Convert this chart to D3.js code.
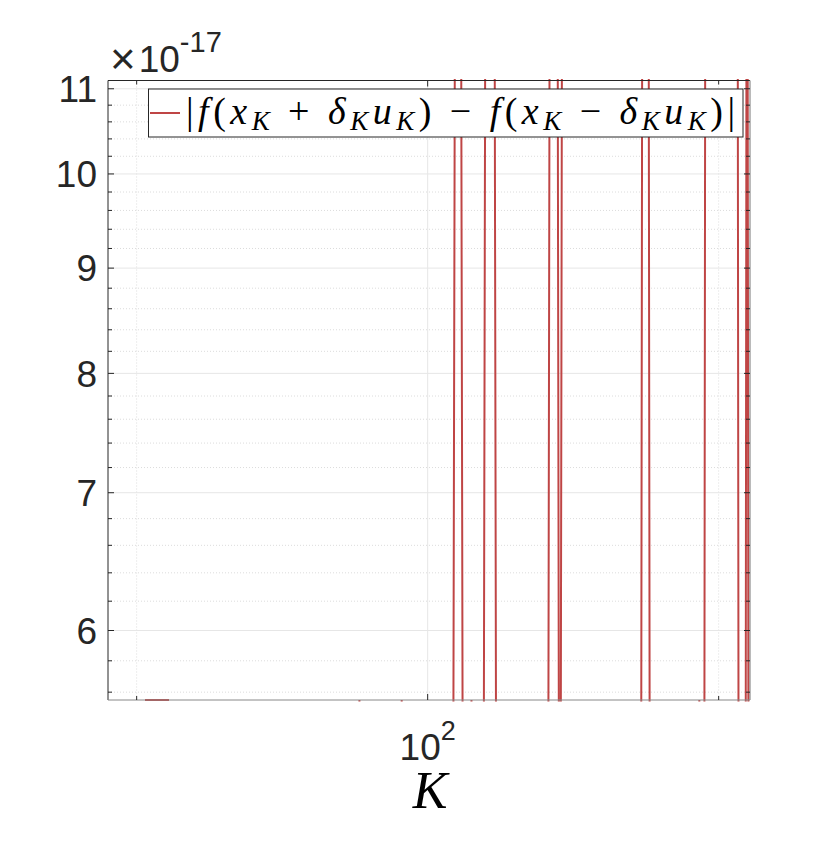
<!DOCTYPE html>
<html>
<head>
<meta charset="utf-8">
<script src="https://cdnjs.cloudflare.com/ajax/libs/d3/7.8.5/d3.min.js"></script>
<style>
  body { margin: 0; background: #fff; }
  svg { display: block; }
</style>
</head>
<body>
<script>
// - Data -

// iteration index K and |f(x+du) - f(x-du)|, 0 = not drawn on log axis
const kValues = [51, 52, 53, 54, 55,
                 84, 85, 86,
                 94, 95, 96,
                 106, 107, 108, 109, 110, 111, 112, 113,
                 114, 115, 116, 117, 118, 119,
                 133, 134, 135, 136, 137, 138, 139,
                 166, 167, 168, 169, 170, 171,
                 190, 191, 192, 193, 194, 195, 200, 205, 209, 210, 211, 212, 213, 214, 215];
const diffValues = [5.551e-17, 5.551e-17, 5.551e-17, 5.551e-17, 0,
                    2.776e-17, 5.551e-17, 0,
                    5.551e-17, 2.776e-17, 0,
                    2.776e-17, 2.22e-16, 2.22e-16, 2.776e-17, 2.776e-17, 5.551e-17, 2.776e-17, 0,
                    2.776e-17, 2.22e-16, 2.22e-16, 2.22e-16, 2.776e-17, 0,
                    2.776e-17, 2.22e-16, 2.22e-16, 2.22e-16, 2.776e-17, 2.22e-16, 0,
                    2.776e-17, 2.22e-16, 2.22e-16, 2.22e-16, 2.776e-17, 0,
                    2.776e-17, 5.551e-17, 2.776e-17, 2.776e-17, 2.22e-16, 2.22e-16, 2.22e-16, 2.22e-16, 2.22e-16, 2.776e-17, 2.776e-17, 2.776e-17, 2.776e-17, 2.22e-16, 2.776e-17];

const yMajor = [6, 7, 8, 9, 10, 11];
const yMinor = [5.6, 5.8, 6.2, 6.4, 6.6, 6.8, 7.2, 7.4, 7.6, 7.8, 8.2, 8.4, 8.6, 8.8,
                9.2, 9.4, 9.6, 9.8, 10.2, 10.4, 10.6, 10.8];
const xMajor = [100];
const xMinor = [50, 200];

// - Chart size -

const w = 830,
      h = 849,
      pLeft = 108,
      pRight = 750,
      pTop = 80.5,
      pBottom = 700;

const axisColor = "#262626",
      lineColor = "#bf4545";

const x = d3.scaleLog().domain([46.7, 215.5]).range([pLeft, pRight]);
const y = d3.scaleLog().domain([Math.pow(2, -54), Math.pow(2, -53)]).range([pBottom, pTop]);

const svg = d3.select("body")
              .append("svg")
              .attr("width", w)
              .attr("height", h);

svg.append("defs").append("clipPath")
   .attr("id", "clip")
   .append("rect")
   .attr("x", pLeft - 1)
   .attr("y", pTop - 1.5)
   .attr("width", pRight - pLeft + 2)
   .attr("height", pBottom - pTop + 3);

// - Grid -

const grid = svg.append("g");

grid.selectAll(".ymin")
    .data(yMinor)
    .enter()
    .append("line")
    .attr("x1", pLeft).attr("x2", pRight)
    .attr("y1", d => y(d * 1e-17)).attr("y2", d => y(d * 1e-17))
    .attr("stroke", "#dcdcdc")
    .attr("stroke-dasharray", "1,2");

grid.selectAll(".xmin")
    .data(xMinor)
    .enter()
    .append("line")
    .attr("x1", d => x(d)).attr("x2", d => x(d))
    .attr("y1", pTop).attr("y2", pBottom)
    .attr("stroke", "#dcdcdc")
    .attr("stroke-dasharray", "1,2");

grid.selectAll(".ymaj")
    .data(yMajor)
    .enter()
    .append("line")
    .attr("x1", pLeft).attr("x2", pRight)
    .attr("y1", d => y(d * 1e-17)).attr("y2", d => y(d * 1e-17))
    .attr("stroke", "#e6e6e6");

grid.selectAll(".xmaj")
    .data(xMajor)
    .enter()
    .append("line")
    .attr("x1", d => x(d)).attr("x2", d => x(d))
    .attr("y1", pTop).attr("y2", pBottom)
    .attr("stroke", "#e6e6e6");

// - Line -

const points = kValues.map((k, i) => ({k: k, v: diffValues[i]}));

const line = d3.line()
               .defined(d => d.v > 0)
               .x(d => x(d.k))
               .y(d => y(d.v));

svg.append("path")
   .datum(points)
   .attr("clip-path", "url(#clip)")
   .attr("fill", "none")
   .attr("stroke", lineColor)
   .attr("stroke-width", 2)
   .attr("d", line);

// - Axes box and ticks -

const axes = svg.append("g").attr("stroke", axisColor);

axes.append("line").attr("x1", pLeft).attr("x2", pRight).attr("y1", pTop).attr("y2", pTop);
axes.append("line").attr("x1", pLeft).attr("x2", pLeft).attr("y1", pTop).attr("y2", pBottom);
axes.append("line").attr("x1", pRight).attr("x2", pRight).attr("y1", pTop).attr("y2", pBottom).attr("stroke", "#777");
axes.append("line").attr("x1", pLeft).attr("x2", pRight).attr("y1", pBottom).attr("y2", pBottom).attr("stroke", "#888");

function yTicks(vals, len) {
  vals.forEach(d => {
    let p = y(d * 1e-17);
    axes.append("line").attr("x1", pLeft).attr("x2", pLeft + len).attr("y1", p).attr("y2", p);
    axes.append("line").attr("x1", pRight).attr("x2", pRight - len).attr("y1", p).attr("y2", p);
  });
}
function xTicks(vals, len) {
  vals.forEach(d => {
    let p = x(d);
    axes.append("line").attr("x1", p).attr("x2", p).attr("y1", pBottom).attr("y2", pBottom - len);
    axes.append("line").attr("x1", p).attr("x2", p).attr("y1", pTop).attr("y2", pTop + len);
  });
}
yTicks(yMajor, 6);
yTicks(yMinor, 4);
xTicks(xMajor, 6);
xTicks(xMinor, 4);

// - Tick labels -

svg.selectAll(".ylab")
   .data(yMajor)
   .enter()
   .append("text")
   .attr("x", pLeft - 11)
   .attr("y", d => y(d * 1e-17))
   .attr("dy", "0.36em")
   .attr("text-anchor", "end")
   .attr("font-family", "Liberation Sans, Arial, sans-serif")
   .attr("font-size", 37)
   .attr("fill", axisColor)
   .text(d => d);

const xlab = svg.append("text")
                .attr("x", x(100))
                .attr("y", 760)
                .attr("text-anchor", "middle")
                .attr("font-family", "Liberation Sans, Arial, sans-serif")
                .attr("fill", axisColor);
xlab.append("tspan").attr("font-size", 37).text("10");
xlab.append("tspan").attr("font-size", 27).attr("dy", -20).text("2");

// exponent label
const expo = svg.append("text")
                .attr("x", 110)
                .attr("y", 72)
                .attr("font-family", "Liberation Sans, Arial, sans-serif")
                .attr("fill", axisColor);
expo.append("tspan").attr("font-size", 44).attr("dy", 2).text("\u00d7");
expo.append("tspan").attr("font-size", 37).attr("dx", 3).attr("dy", -2).text("10");
expo.append("tspan").attr("font-size", 29).attr("dy", -20).text("-17");

// x label
svg.append("text")
   .attr("x", 430)
   .attr("y", 808)
   .attr("text-anchor", "middle")
   .attr("font-family", "Liberation Serif, serif")
   .attr("font-style", "italic")
   .attr("font-size", 52)
   .attr("fill", "#000")
   .text("K");

// - Legend -

const legend = svg.append("g");

legend.append("rect")
      .attr("x", 148.5)
      .attr("y", 89)
      .attr("width", 594.5)
      .attr("height", 48)
      .attr("fill", "#fff")
      .attr("stroke", axisColor);

legend.append("line")
      .attr("x1", 150).attr("x2", 180)
      .attr("y1", 113).attr("y2", 113)
      .attr("stroke", lineColor)
      .attr("stroke-width", 2);

const lt = legend.append("text")
                 .attr("x", 186)
                 .attr("y", 124)
                 .attr("font-family", "Liberation Serif, serif")
                 .attr("font-size", 38)
                 .attr("fill", "#000")
                 .attr("textLength", 549)
                 .attr("lengthAdjust", "spacing");

const parts = [
  ["|", ""], ["f", "it"], ["(", ""], ["x", "it"], ["K", "sub"], [" + ", ""], ["\u03b4", "it"], ["K", "sub"],
  ["u", "it"], ["K", "sub"], [") \u2212 ", ""], ["f", "it"], ["(", ""], ["x", "it"], ["K", "sub"],
  [" \u2212 ", ""], ["\u03b4", "it"], ["K", "sub"], ["u", "it"], ["K", "sub"], [")|", ""]
];
let down = false;
parts.forEach(p => {
  let t = lt.append("tspan").text(p[0]);
  if (p[1] !== "") t.attr("font-style", "italic");
  if (p[1] === "sub") {
    t.attr("font-size", 27).attr("dy", down ? 0 : 6);
    down = true;
  } else {
    if (down) t.attr("dy", -6);
    down = false;
  }
});
</script>
</body>
</html>
